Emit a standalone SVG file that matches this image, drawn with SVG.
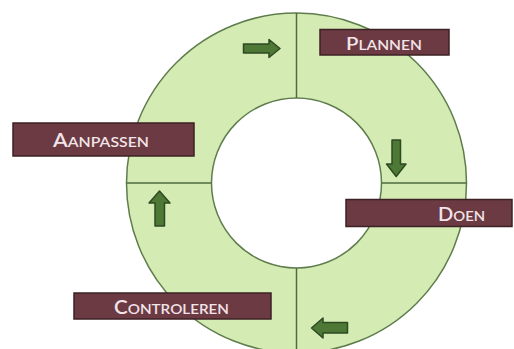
<svg xmlns="http://www.w3.org/2000/svg" width="514" height="349" viewBox="0 0 514 349">
<style>
.ring{fill:#d4ecb4;stroke:#5f7d4c;stroke-width:1.5}
.hole{fill:#ffffff;stroke:#5f7d4c;stroke-width:1.5}
.div{stroke:#4f6b3e;stroke-width:1.5;fill:none}
.box{fill:#6b3a42;stroke:#3c2226;stroke-width:1.5}
.lbl{font-family:Lato,"Open Sans","Liberation Sans",sans-serif;fill:#f2e4e8;font-weight:600}
.arr{fill:#4d7835;stroke:#2e4a22;stroke-width:1.5;stroke-linejoin:round}
</style>
<rect width="514" height="349" fill="#ffffff"/>
<g id="cycle">
<circle class="ring" cx="296.5" cy="183" r="170"/>
<circle class="hole" cx="296.5" cy="183" r="85"/>
<path class="div" d="M296.5 13V98M296.5 268V353M126.5 183H211.5M381.5 183H466.5"/>
</g>
<g id="connectors">
<path class="arr" d="M243.5 44H269V39.5L280 48.5L269 57.5V53H243.5Z"/>
<path class="arr" d="M392 140H400.5V164H406L396.2 176.5L386.5 164H392Z"/>
<path class="arr" d="M155 226V203H149L159.5 191L170 203H164.5V226Z"/>
<path class="arr" d="M347.5 322.5H323V318L311.5 328L323 338V333H347.5Z"/>
</g>
<g id="plannen">
<rect class="box" x="320" y="29.5" width="129" height="25.5"/>
<text class="lbl" x="346" y="49.5" textLength="76" lengthAdjust="spacingAndGlyphs"><tspan font-size="17">P</tspan><tspan font-size="13">LANNEN</tspan></text>
</g>
<g id="aanpassen">
<rect class="box" x="13" y="123" width="181" height="33"/>
<text class="lbl" x="53" y="147" textLength="96" lengthAdjust="spacingAndGlyphs"><tspan font-size="19">A</tspan><tspan font-size="14">ANPASSEN</tspan></text>
</g>
<g id="doen">
<rect class="box" x="346" y="199.5" width="166" height="27"/>
<text class="lbl" x="438" y="220.5" textLength="47" lengthAdjust="spacingAndGlyphs"><tspan font-size="19">D</tspan><tspan font-size="14">OEN</tspan></text>
</g>
<g id="controleren">
<rect class="box" x="74" y="293" width="197" height="26"/>
<text class="lbl" x="114" y="314" textLength="115" lengthAdjust="spacingAndGlyphs"><tspan font-size="19">C</tspan><tspan font-size="14">ONTROLEREN</tspan></text>
</g>
</svg>
